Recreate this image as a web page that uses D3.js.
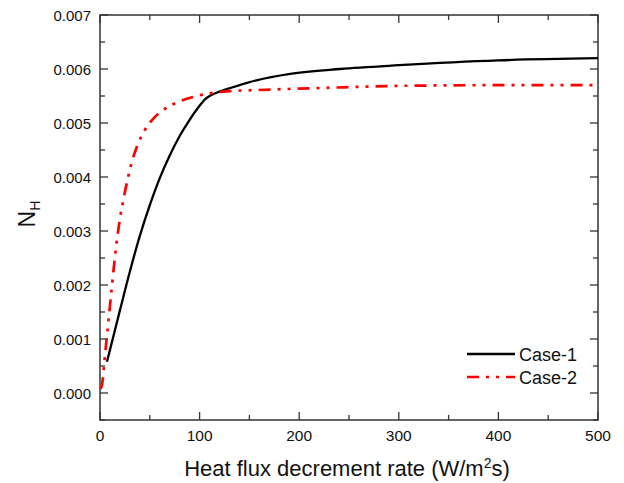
<!DOCTYPE html>
<html><head><meta charset="utf-8">
<script src="https://cdn.jsdelivr.net/npm/d3@7"></script>
<style>body{margin:0;background:#fff}svg{display:block}text{font-family:Arial,"Liberation Sans",sans-serif;fill:#111}</style>
</head><body>
<svg id="c" width="624" height="483"></svg>
<script>
const case1X = [7, 20, 30, 40, 50, 60, 70, 80, 90, 100, 105, 112, 120, 140, 157, 191, 241, 300, 400, 500];
const case1Y = [0.00058, 0.00153, 0.00225, 0.00291, 0.00348, 0.00398, 0.0044, 0.00476, 0.00506, 0.00532, 0.00543, 0.00552, 0.00558, 0.0057, 0.00579, 0.00591, 0.006, 0.00607, 0.00616, 0.0062];
const case2X = [0.5, 2, 5, 8, 11, 14, 17, 20, 24, 28, 32, 37, 45, 55, 65, 80, 95, 110, 130, 157, 224, 308, 400, 500];
const case2Y = [0.00008, 0.00015, 0.0007, 0.00125, 0.0018, 0.00235, 0.00283, 0.00323, 0.00363, 0.00398, 0.00428, 0.00456, 0.00487, 0.00511, 0.00526, 0.0054, 0.00549, 0.00555, 0.00559, 0.00561, 0.00565, 0.00569, 0.0057, 0.0057];
const xTicks = [0, 100, 200, 300, 400, 500];
const yTicks = [0, 0.001, 0.002, 0.003, 0.004, 0.005, 0.006, 0.007];
const seriesNames = ["Case-1", "Case-2"];

const svg = d3.select("#c");
const L = 100, R = 598, T = 15, B = 420;
const x = d3.scaleLinear().domain([0, 500]).range([L, R]);
const y = d3.scaleLinear().domain([-0.0005, 0.007]).range([B, T]);
const axisColor = "#333";

svg.append("rect").attr("x", L).attr("y", T).attr("width", R - L).attr("height", B - T)
  .attr("fill", "none").attr("stroke", axisColor).attr("stroke-width", 1.5);

const xMinor = d3.range(0, 501, 50);
const yMinor = d3.range(-0.0005, 0.00701, 0.0005).map(v => +v.toFixed(4));
const g = svg.append("g").attr("stroke", axisColor).attr("stroke-width", 1.3);
xMinor.forEach(v => {
  const len = (v % 100 === 0) ? 8 : 5;
  g.append("line").attr("x1", x(v)).attr("x2", x(v)).attr("y1", B).attr("y2", B - len);
  g.append("line").attr("x1", x(v)).attr("x2", x(v)).attr("y1", T).attr("y2", T + len);
});
yMinor.forEach(v => {
  const major = Math.abs(Math.round(v * 1000) - v * 1000) < 1e-6;
  const len = major ? 8 : 5;
  g.append("line").attr("x1", L).attr("x2", L + len).attr("y1", y(v)).attr("y2", y(v));
  g.append("line").attr("x1", R).attr("x2", R - len).attr("y1", y(v)).attr("y2", y(v));
});

svg.append("g").selectAll("text").data(xTicks).join("text")
  .attr("x", d => x(d)).attr("y", 441).attr("text-anchor", "middle")
  .attr("font-size", 15.5).text(d => d);
svg.append("g").selectAll("text").data(yTicks).join("text")
  .attr("x", 91).attr("y", d => y(d) + 5.5).attr("text-anchor", "end")
  .attr("font-size", 15).text(d => d3.format(".3f")(d));

const xt = svg.append("text").attr("x", 347).attr("y", 476).attr("text-anchor", "middle").attr("font-size", 22);
xt.append("tspan").text("Heat flux decrement rate (W/m");
xt.append("tspan").attr("dy", -8).attr("font-size", 14).text("2");
xt.append("tspan").attr("dy", 8).text("s)");
const yt = svg.append("text").attr("transform", "translate(35,214) rotate(-90)").attr("text-anchor", "middle").attr("font-size", 23);
yt.append("tspan").text("N");
yt.append("tspan").attr("dy", 5).attr("font-size", 14).text("H");

const line = d3.line().curve(d3.curveMonotoneX).x(d => x(d[0])).y(d => y(d[1]));
const d1 = case1X.map((v, i) => [v, case1Y[i]]);
const d2 = case2X.map((v, i) => [v, case2Y[i]]);
const dash2 = "12,7,3,7,3,7";
svg.append("path").datum(d1).attr("d", line).attr("fill", "none").attr("stroke", "#000").attr("stroke-width", 2.3);
svg.append("path").datum(d2).attr("d", line).attr("fill", "none").attr("stroke", "#ff0000").attr("stroke-width", 2.7).attr("stroke-dasharray", dash2);

const leg = [{ y: 354, c: "#000", w: 2.3, dash: null }, { y: 377, c: "#ff0000", w: 2.7, dash: dash2 }];
leg.forEach((l, i) => {
  svg.append("line").attr("x1", 467).attr("x2", 515).attr("y1", l.y).attr("y2", l.y)
    .attr("stroke", l.c).attr("stroke-width", l.w).attr("stroke-dasharray", l.dash);
  svg.append("text").attr("x", 519).attr("y", l.y + 6.5).attr("font-size", 18).text(seriesNames[i]);
});
</script>
</body></html>
